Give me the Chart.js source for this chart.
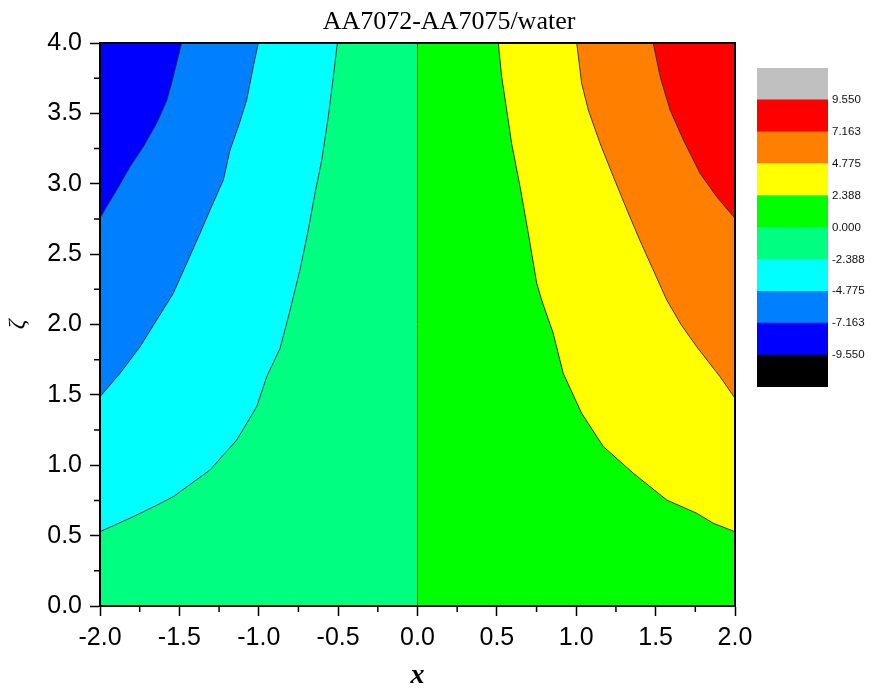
<!DOCTYPE html>
<html>
<head>
<meta charset="utf-8">
<script src="https://cdn.jsdelivr.net/npm/chart.js@4.4.1/dist/chart.umd.min.js"></script>
<style>
    html, body { margin: 0; padding: 0; background: #fff; }
    #wrap { position: relative; width: 878px; height: 693px; }
    #main { position: absolute; left: 0; top: 0; }
    #bar { position: absolute; left: 750px; top: 57px; }
</style>
</head>
<body>
<div id="wrap">
    <canvas id="main" width="878" height="693"></canvas>
    <canvas id="bar" width="128" height="345"></canvas>
</div>
<script>
var chartTitle = 'AA7072-AA7075/water';
var xRange = [-2.0, 2.0];
var yRange = [0.0, 4.0];
var minorX = [-1.75, -1.25, -0.75, -0.25, 0.25, 0.75, 1.25, 1.75];
var minorY = [0.25, 0.75, 1.25, 1.75, 2.25, 2.75, 3.25, 3.75];

// contour levels of the colour bar
var cbEdges = [-11.938, -9.550, -7.163, -4.775, -2.388, 0.000, 2.388, 4.775, 7.163, 9.550, 11.938];
var levels = [-9.550, -7.163, -4.775, -2.388, 0.000, 2.388, 4.775, 7.163, 9.550];
var bandColors = ['#000000', '#0000ff', '#0080ff', '#00ffff', '#00ff80', '#00ff00', '#ffff00', '#ff8000', '#ff0000', '#c0c0c0'];

// contour lines (left side: from left edge up to top edge)
var cM7163x = [-2.000, -1.958, -1.895, -1.811, -1.727, -1.643, -1.580, -1.549, -1.486];
var cM7163y = [2.754, 2.837, 2.956, 3.121, 3.263, 3.430, 3.590, 3.714, 4.000];

var cM4775x = [-2.000, -1.874, -1.748, -1.643, -1.538, -1.454, -1.370, -1.307, -1.223, -1.181, -1.129, -1.076, -1.034, -1.003];
var cM4775y = [1.487, 1.653, 1.842, 2.032, 2.222, 2.435, 2.648, 2.813, 3.027, 3.240, 3.405, 3.595, 3.834, 4.000];

var cM2388x = [-2.000, -1.790, -1.650, -1.538, -1.307, -1.139, -1.013, -0.950, -0.866, -0.803, -0.740, -0.688, -0.646, -0.603, -0.562, -0.530, -0.505];
var cM2388y = [0.528, 0.635, 0.712, 0.777, 0.966, 1.179, 1.416, 1.629, 1.830, 2.100, 2.390, 2.671, 2.932, 3.169, 3.476, 3.763, 4.000];

var cZeroX = [0.000, 0.000];
var cZeroY = [0.000, 4.000];

// right side: from top edge down to right edge
var cP2388x = [0.509, 0.530, 0.562, 0.593, 0.646, 0.698, 0.751, 0.782, 0.855, 0.918, 1.034, 1.171, 1.360, 1.570, 1.759, 1.863, 2.000];
var cP2388y = [4.000, 3.763, 3.524, 3.287, 2.979, 2.648, 2.293, 2.174, 1.937, 1.653, 1.369, 1.132, 0.943, 0.753, 0.659, 0.588, 0.528];

var cP4775x = [1.003, 1.034, 1.076, 1.150, 1.234, 1.320, 1.400, 1.480, 1.570, 1.660, 1.759, 1.906, 2.000];
var cP4775y = [4.000, 3.714, 3.524, 3.287, 3.050, 2.813, 2.600, 2.400, 2.174, 2.000, 1.842, 1.629, 1.476];

var cP7163x = [1.485, 1.528, 1.591, 1.675, 1.780, 1.885, 2.000];
var cP7163y = [4.000, 3.763, 3.524, 3.311, 3.074, 2.908, 2.754];

function pts(xs, ys)
{
    return xs.map(function(x, i) {
        return {x: x, y: ys[i]};
    });
}

function region(data, color, order)
{
    return {
        data: data,
        backgroundColor: color,
        borderColor: 'transparent',
        borderWidth: 0,
        pointRadius: 0,
        fill: 'shape',
        tension: 0,
        order: order
    };
}

function contour(xs, ys)
{
    return {
        data: pts(xs, ys),
        borderColor: '#2a2a2a',
        borderWidth: 0.9,
        pointRadius: 0,
        fill: false,
        tension: 0,
        order: 1
    };
}

var topLeft = {x: xRange[0], y: yRange[1]};
var topRight = {x: xRange[1], y: yRange[1]};

var datasets = [
    region([topLeft, {x: xRange[0], y: yRange[0]}, {x: cZeroX[0], y: yRange[0]}, {x: cZeroX[1], y: yRange[1]}], bandColors[4], 30),
    region([{x: cZeroX[1], y: yRange[1]}, {x: cZeroX[0], y: yRange[0]}, {x: xRange[1], y: yRange[0]}, topRight], bandColors[5], 30),
    region([topLeft].concat(pts(cM2388x, cM2388y)), bandColors[3], 20),
    region([topLeft].concat(pts(cM4775x, cM4775y)), bandColors[2], 19),
    region([topLeft].concat(pts(cM7163x, cM7163y)), bandColors[1], 18),
    region(pts(cP2388x, cP2388y).concat([topRight]), bandColors[6], 20),
    region(pts(cP4775x, cP4775y).concat([topRight]), bandColors[7], 19),
    region(pts(cP7163x, cP7163y).concat([topRight]), bandColors[8], 18),
    contour(cM7163x, cM7163y),
    contour(cM4775x, cM4775y),
    contour(cM2388x, cM2388y),
    contour(cZeroX, cZeroY),
    contour(cP2388x, cP2388y),
    contour(cP4775x, cP4775y),
    contour(cP7163x, cP7163y)
];

var decor = {
    id: 'decor',
    afterDatasetsDraw: function(chart) {
        var ctx = chart.ctx,
            a = chart.chartArea,
            xs = chart.scales.x,
            ys = chart.scales.y;

        ctx.save();
        ctx.strokeStyle = '#000';
        ctx.lineWidth = 2;
        ctx.strokeRect(a.left, a.top, a.right - a.left, a.bottom - a.top);

        ctx.lineWidth = 1.5;
        ctx.beginPath();
        minorX.forEach(function(v) {
            var p = xs.getPixelForValue(v);
            ctx.moveTo(p, a.bottom);
            ctx.lineTo(p, a.bottom + 6);
        });
        minorY.forEach(function(v) {
            var p = ys.getPixelForValue(v);
            ctx.moveTo(a.left, p);
            ctx.lineTo(a.left - 6, p);
        });
        ctx.stroke();

        ctx.fillStyle = '#000';
        ctx.font = '26px "Liberation Serif"';
        ctx.textAlign = 'center';
        ctx.textBaseline = 'alphabetic';
        ctx.fillText(chartTitle, 449, 29);
        ctx.restore();
    }
};

Chart.defaults.color = '#000';
Chart.defaults.font.family = '"Liberation Sans", Arial, sans-serif';

var axisGrid = {
    drawOnChartArea: false,
    tickLength: 10,
    tickWidth: 1.5,
    tickColor: '#000'
};

new Chart(document.getElementById('main'), {
    type: 'line',
    data: {datasets: datasets},
    plugins: [decor],
    options: {
        responsive: false,
        animation: false,
        layout: {padding: {left: 0, right: 143, top: 43, bottom: 0}},
        plugins: {legend: {display: false}, tooltip: {enabled: false}, title: {display: false}},
        scales: {
            x: {
                type: 'linear',
                min: xRange[0],
                max: xRange[1],
                grid: axisGrid,
                border: {color: '#000', width: 2},
                ticks: {
                    stepSize: 0.5,
                    padding: 7,
                    font: {size: 25},
                    maxRotation: 0,
                    callback: function(v) { return v.toFixed(1); }
                },
                title: {
                    display: true,
                    text: 'x',
                    font: {family: '"Liberation Serif", serif', size: 28, style: 'italic', weight: 'bold'},
                    padding: {top: 0, bottom: 0}
                },
                afterFit: function(s) { s.height = 87; }
            },
            y: {
                type: 'linear',
                min: yRange[0],
                max: yRange[1],
                grid: axisGrid,
                border: {color: '#000', width: 2},
                ticks: {
                    stepSize: 0.5,
                    padding: 8,
                    font: {size: 25},
                    callback: function(v) { return v.toFixed(1); }
                },
                title: {
                    display: true,
                    text: 'ζ',
                    font: {family: '"Liberation Serif", serif', size: 24, style: 'italic'},
                    padding: {top: 3, bottom: 0}
                },
                afterFit: function(s) { s.width = 100; }
            }
        }
    }
});

// colour bar
var barSets = bandColors.map(function(c, i) {
    return {
        data: [[cbEdges[i], cbEdges[i + 1]]],
        backgroundColor: c,
        borderWidth: 0,
        grouped: false,
        barPercentage: 1,
        categoryPercentage: 1
    };
});

new Chart(document.getElementById('bar'), {
    type: 'bar',
    data: {labels: [''], datasets: barSets},
    options: {
        responsive: false,
        animation: false,
        layout: {padding: {left: 7, right: 0, top: 5, bottom: 15}},
        plugins: {legend: {display: false}, tooltip: {enabled: false}},
        scales: {
            x: {display: false},
            y: {
                position: 'right',
                min: cbEdges[0],
                max: cbEdges[cbEdges.length - 1],
                grid: {display: false, drawTicks: false},
                border: {display: false},
                afterBuildTicks: function(s) {
                    s.ticks = levels.map(function(v) { return {value: v}; });
                },
                ticks: {
                    autoSkip: false,
                    padding: 4,
                    font: {size: 11.5},
                    color: '#111',
                    callback: function(v) { return v.toFixed(3); }
                },
                afterFit: function(s) { s.width = 50; }
            }
        }
    }
});
</script>
</body>
</html>
